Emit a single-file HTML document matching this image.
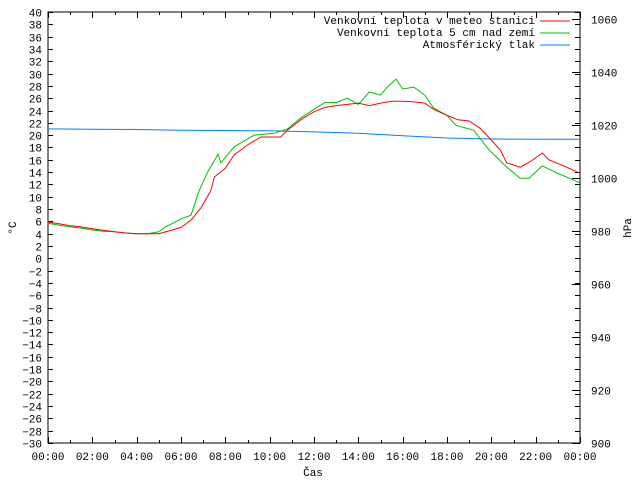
<!DOCTYPE html>
<html><head><meta charset="utf-8"><style>
body{margin:0;background:#fff;}
svg{display:block;font-family:"Liberation Mono","DejaVu Sans Mono",monospace;font-size:11px;}
</style></head><body>
<svg id="chart" width="640" height="480" viewBox="0 0 640 480" xmlns="http://www.w3.org/2000/svg">
<rect x="0" y="0" width="640" height="480" fill="#fff"/>
<g id="axes"></g>
<g id="series"></g>
<text transform="translate(16,228) rotate(-90)" text-anchor="middle">°C</text>
<text transform="translate(631,228) rotate(-90)" text-anchor="middle">hPa</text>
<text x="313" y="476" text-anchor="middle">Čas</text>
<g>
<text x="535" y="24" text-anchor="end">Venkovní teplota v meteo stanici</text>
<line x1="540" y1="21" x2="570" y2="21" stroke="#ff0000"/>
<text x="535" y="36" text-anchor="end">Venkovní teplota 5 cm nad zemí</text>
<line x1="540" y1="33" x2="570" y2="33" stroke="#00c000"/>
<text x="535" y="48" text-anchor="end">Atmosférický tlak</text>
<line x1="540" y1="45" x2="570" y2="45" stroke="#0080ff"/>
</g>
</svg>
<script>
const xTickLabels = ["00:00","02:00","04:00","06:00","08:00","10:00","12:00","14:00","16:00","18:00","20:00","22:00","00:00"];
const y2TickLabels = [900,920,940,960,980,1000,1020,1040,1060];
const stationHours = [0,0.5,1,1.5,2,2.4,3,3.5,4,4.5,5,5.5,6,6.45,6.9,7.35,7.5,8,8.4,9,9.6,10.5,10.8,11.4,12,12.5,13,13.5,14,14.5,15,15.5,16,16.5,17,17.4,18,18.5,19,19.5,20,20.4,20.7,21.3,21.8,22.3,22.6,23.4,24];
const stationTemps = [5.9,5.6,5.3,5.1,4.8,4.6,4.3,4.1,4.0,4.0,4.0,4.5,5.0,6.2,8.2,11,13.2,14.6,16.8,18.4,19.7,19.7,20.8,22.5,23.8,24.5,24.8,25,25.2,24.8,25.2,25.5,25.5,25.4,25.2,24.2,23.2,22.5,22.3,21.1,19.2,17.6,15.5,14.8,15.8,17.1,16,14.8,13.8];
const groundHours = [0,0.45,1,1.5,2,2.5,3,3.5,4,4.5,5,5.3,6,6.45,6.8,7.2,7.67,7.8,8.4,9.3,10.2,10.8,11.4,12,12.5,13,13.5,14,14.5,15,15.3,15.7,16,16.5,17,17.4,18,18.4,19.2,19.9,20.7,21.3,21.7,22.3,23,23.9,24];
const groundTemps = [5.7,5.4,5.1,4.9,4.6,4.4,4.3,4.1,4.0,4.0,4.3,5.1,6.4,7,10.8,14,16.9,15.5,18.1,20,20.3,21,22.8,24.2,25.3,25.3,26,25,27,26.5,27.8,29.1,27.5,27.8,26.5,24.4,23.2,21.6,20.8,17.6,14.8,13,13,15,13.8,12.4,12.2];
const pressureHours = [0,2,4,6,8,10,12,14,16,18,20,22,24];
const pressureValues = [1018.6,1018.5,1018.4,1018.1,1018,1017.9,1017.5,1017,1016,1015.2,1014.8,1014.7,1014.7];

const L=48,R=580,T=12,B=443;
const xs=h=>L+(R-L)*h/24;
const yT=t=>T+(40-t)*(B-T)/70;
const yP=p=>B-(p-900)*(B-T)/(1060-900+ (1060-900)*7/405);
const NS="http://www.w3.org/2000/svg";
function mk(tag,attrs,parent){const e=document.createElementNS(NS,tag);for(const k in attrs)e.setAttribute(k,attrs[k]);parent.appendChild(e);return e;}
const ax=document.getElementById('axes');
const box=mk('rect',{x:L,y:T,width:R-L,height:B-T,fill:'none',stroke:'#000'},ax);


for(let t=-30;t<=40;t+=2){
  const y=Math.round(yT(t))+0.5;
  const tk=mk('path',{d:`M${L},${y}h5M${R},${y}h-5`,stroke:'#000'},ax);
  
  
  const lb=mk('text',{x:L-6,y:y+4,'text-anchor':'end'},ax);
  lb.textContent=String(t).replace('-','−');
  
  
}
y2TickLabels.forEach(p=>{
  const y=Math.round(yP(p))+0.5;
  const tk=mk('path',{d:`M${R},${y}h-8`,stroke:'#000'},ax);
  
  
  const lb=mk('text',{x:R+11,y:y+4},ax);
  lb.textContent=p;
  
  
});
for(let h=0;h<=24;h++){
  const x=Math.round(xs(h))+0.5;
  const len=h%2==0?6:3;
  const tk=mk('path',{d:`M${x},${B}v-${len}M${x},${T}v${len}`,stroke:'#000'},ax);
  
  
}
xTickLabels.forEach((s,i)=>{
  const lb=mk('text',{x:xs(i*2),y:B+17,'text-anchor':'middle'},ax);
  lb.textContent=s;
  
  
});
const sg=document.getElementById('series');
function line(hs,vs,yf,color,name){
  const d=hs.map((h,i)=>(i?'L':'M')+xs(h).toFixed(1)+','+yf(vs[i]).toFixed(1)).join('');
  const p=mk('path',{d:d,fill:'none',stroke:color,'stroke-width':1},sg);
  
  
}
line(pressureHours,pressureValues,yP,'#0080ff','pressure-line');
line(groundHours,groundTemps,yT,'#00c000','ground-temp-line');
line(stationHours,stationTemps,yT,'#ff0000','station-temp-line');
</script>
</body></html>
